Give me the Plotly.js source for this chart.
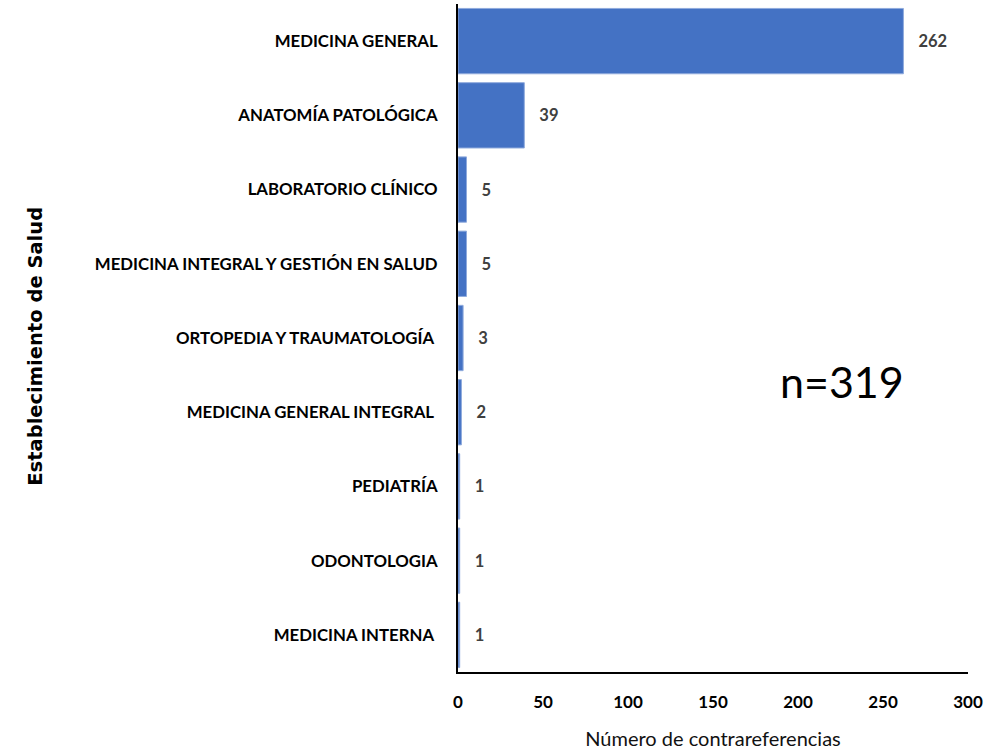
<!DOCTYPE html>
<html>
<head>
<meta charset="utf-8">
<script src="https://cdn.plot.ly/plotly-3.0.1.min.js"></script>
<style>html,body{margin:0;padding:0;background:#fff}#chart{width:998px;height:753px}</style>
</head>
<body>
<div id="chart"></div>
<script>
const categories = [
  "MEDICINA GENERAL",
  "ANATOMÍA PATOLÓGICA",
  "LABORATORIO CLÍNICO",
  "MEDICINA INTEGRAL Y GESTIÓN EN SALUD",
  "ORTOPEDIA Y TRAUMATOLOGÍA ",
  "MEDICINA GENERAL INTEGRAL ",
  "PEDIATRÍA",
  "ODONTOLOGIA",
  "MEDICINA INTERNA "
];
const values = [262, 39, 5, 5, 3, 2, 1, 1, 1];
const xTicks = [0, 50, 100, 150, 200, 250, 300];
const xTitle = "Número de contrareferencias";
const yTitle = "Establecimiento de Salud";
const note = "n=319";

const font = "Lato, 'Open Sans', sans-serif";

const trace = {
  type: "bar",
  orientation: "h",
  y: categories,
  x: values,
  text: values.map(v => "\u00a0\u00a0\u00a0" + v),
  textposition: "outside",
  texttemplate: "%{text}",
  cliponaxis: false,
  textfont: {family: font, size: 16.5, color: "#404040", weight: "bold"},
  marker: {color: "#4472C4", line: {color: "#8faadc", width: 1}},
  hoverinfo: "none"
};

const layout = {
  width: 998, height: 753,
  margin: {l: 458, r: 30, t: 4, b: 81},
  paper_bgcolor: "#fff", plot_bgcolor: "#fff",
  showlegend: false,
  bargap: 0.12,
  xaxis: {
    range: [0, 300],
    tickvals: xTicks,
    showgrid: false, zeroline: false,
    showline: true, linecolor: "#000", linewidth: 2,
    ticks: "outside", ticklen: 14, tickcolor: "rgba(0,0,0,0)",
    tickfont: {family: font, size: 17, color: "#000", weight: "bold"},
    title: {text: xTitle, standoff: 21, font: {family: font, size: 20, color: "#111"}}
  },
  yaxis: {
    type: "category",
    categoryorder: "array", categoryarray: categories,
    autorange: "reversed",
    showgrid: false, zeroline: false,
    showline: true, linecolor: "#000", linewidth: 2,
    ticks: "outside", ticklen: 15, tickcolor: "rgba(0,0,0,0)",
    tickfont: {family: font, size: 16.8, color: "#000", weight: "bold"}
  },
  annotations: [
    {text: yTitle, xref: "paper", yref: "paper", x: -0.83, y: 0.488, textangle: -90,
     showarrow: false, xanchor: "center", yanchor: "middle",
     font: {family: "'DejaVu Sans', sans-serif", size: 19.5, color: "#000", weight: "bold"}},
    {text: note, xref: "paper", yref: "paper", x: 0.753, y: 0.435,
     showarrow: false, xanchor: "center", yanchor: "middle",
     font: {family: font, size: 43, color: "#000"}}
  ]
};

Plotly.newPlot("chart", [trace], layout, {displayModeBar: false, staticPlot: true});
</script>
</body>
</html>
